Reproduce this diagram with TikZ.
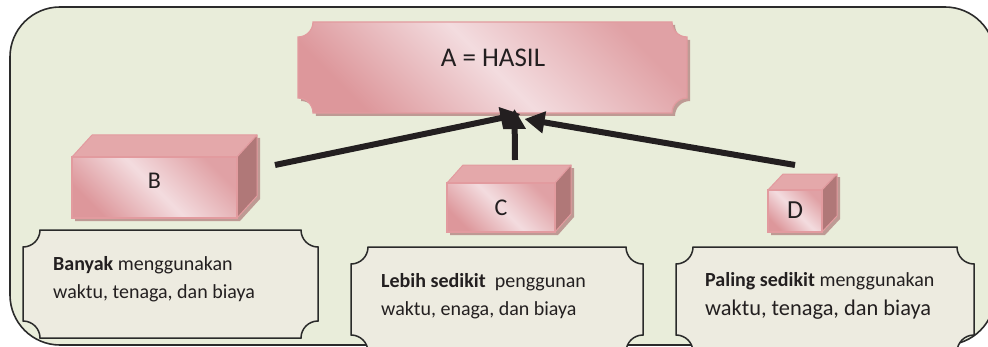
\documentclass[tikz,border=0pt]{standalone}
\usepackage{fontspec}
\setmainfont{Carlito}
\usetikzlibrary{arrows.meta}

\definecolor{framefill}{HTML}{E9EDDA}
\definecolor{frameline}{HTML}{2B2B2B}
\definecolor{pinkL}{HTML}{F3DCDF}
\definecolor{pinkD}{HTML}{DD979B}
\definecolor{roseedge}{HTML}{E29B9F}
\definecolor{topc}{HTML}{E4A8AA}
\definecolor{sidec}{HTML}{B07878}
\definecolor{shadowc}{HTML}{BE9A94}
\definecolor{notefill}{HTML}{EDEBE0}
\definecolor{noteline}{HTML}{2A2A2A}
\definecolor{inkc}{HTML}{231F20}

% rectangle with concave quarter-circle notches at the four corners
% #1,#2 = lower-left corner, #3,#4 = upper-right corner, #5 = notch radius
\newcommand\notchedpath[5]{(#1+#5,#4) -- (#3-#5,#4)
  arc[start angle=180,end angle=270,radius=#5pt] -- (#3,#2+#5)
  arc[start angle=90,end angle=180,radius=#5pt] -- (#1+#5,#2)
  arc[start angle=0,end angle=90,radius=#5pt] -- (#1,#4-#5)
  arc[start angle=270,end angle=360,radius=#5pt] -- cycle}

% shadow, top and side faces, then the front face of a box
% #1 = node that marks the front face, #2,#3 = depth offset
\newcommand\cuboidfaces[3]{%
  \fill[roseshadow] ([shift={(3,-3)}]#1.north west) -- ([shift={(#2+3,#3-3)}]#1.north west)
    -- ([shift={(#2+3,#3-3)}]#1.north east) -- ([shift={(#2+3,#3-3)}]#1.south east)
    -- ([shift={(3,-3)}]#1.south east) -- ([shift={(3,-3)}]#1.south west) -- cycle;
  \filldraw[topface] (#1.north west) -- ([shift={(#2,#3)}]#1.north west)
    -- ([shift={(#2,#3)}]#1.north east) -- (#1.north east) -- cycle;
  \filldraw[sideface] (#1.north east) -- ([shift={(#2,#3)}]#1.north east)
    -- ([shift={(#2,#3)}]#1.south east) -- (#1.south east) -- cycle;
  \path[rosebox] (#1.south west) rectangle (#1.north east);}

\tikzset{
  frame/.style={draw=frameline, line width=1.6pt, fill=framefill, rounded corners=50pt},
  rosebox/.style={draw=roseedge, line width=1.2pt, left color=pinkD, right color=pinkD!85!pinkL,
    middle color=pinkL, shading angle=135},
  roseshadow/.style={fill=shadowc},
  topface/.style={fill=topc, draw=roseedge, line width=1pt, line join=round},
  sideface/.style={fill=sidec, draw=roseedge, line width=1pt, line join=round},
  notebox/.style={draw=noteline, line width=1.5pt, fill=notefill},
  facemark/.style={inner sep=0pt, outer sep=0pt},
  arr/.style={line width=6pt, draw=inkc, fill=inkc, -{Triangle[width=21pt,length=20pt]}},
  lbl/.style={text=inkc, inner sep=0pt},
  note/.style={font=\fontsize{20}{24}\selectfont, text=inkc, anchor=base west, inner sep=0pt},
}

\begin{document}
\begin{tikzpicture}[x=1pt,y=1pt]
\useasboundingbox (0,0) rectangle (988,346);

% outer panel
\path[frame] (10,1) rectangle (995,339);

% result box
\fill[roseshadow, shift={(3,-3)}] \notchedpath{298}{233}{687}{324}{15};
\path[rosebox] \notchedpath{298}{233}{687}{324}{15};
\node[facemark, minimum width=389pt, minimum height=91pt] (A) at (492.5,278.5) {};
\node[lbl, anchor=base, font=\fontsize{27}{30}\selectfont] (Atext) at (493,279.5) {A = HASIL};

% the three options as boxes of falling size
\node[facemark, minimum width=165pt, minimum height=61pt] (B) at (154.5,158.5) {};
\cuboidfaces{B}{20}{22}
\node[lbl, font=\fontsize{24}{28}\selectfont] (Btext) at (154.5,165.5) {B};

\node[facemark, minimum width=108pt, minimum height=49pt] (C) at (501,138.5) {};
\cuboidfaces{C}{16}{18}
\node[lbl, font=\fontsize{24}{28}\selectfont] (Ctext) at (501,138.5) {C};

\node[facemark, minimum width=54pt, minimum height=42pt] (D) at (795,135) {};
\cuboidfaces{D}{15}{16}
\node[lbl, font=\fontsize{26}{30}\selectfont] (Dtext) at (795,136) {D};

% arrows into the result
\coordinate (Bout) at (275,181);
\coordinate (Cout) at (515,186);
\coordinate (Dout) at (795,181);
\coordinate (Bin) at ([shift={(28,-1)}]A.south);
\coordinate (Cin) at ([shift={(22,4)}]A.south);
\coordinate (Din) at ([shift={(32,-6)}]A.south);
\draw[arr] (Bout) -- (Bin);
\draw[arr] (Dout) -- (Din);
\draw[arr] (Cout) -- (Cin);

% descriptions
\path[notebox] \notchedpath{23}{8}{318}{116}{17};
\node[note] (B1) at (53,75.3) {\textbf{Banyak} menggunakan};
\node[note] (B2) at (53,48) {waktu, tenaga, dan biaya};

\path[notebox] \notchedpath{351}{-6}{643}{99}{17};
\node[note] (C1) at (381,59) {\textbf{Lebih sedikit}\ \ penggunan};
\node[note] (C2) at (381,31) {waktu, enaga, dan biaya};

\path[notebox] \notchedpath{676}{-6}{974}{99}{17};
\node[note] (D1) at (705,60) {\textbf{Paling sedikit} menggunakan};
\node[note, font=\fontsize{22.4}{26}\selectfont] (D2) at (705,31) {waktu, tenaga, dan biaya};
\end{tikzpicture}
\end{document}
